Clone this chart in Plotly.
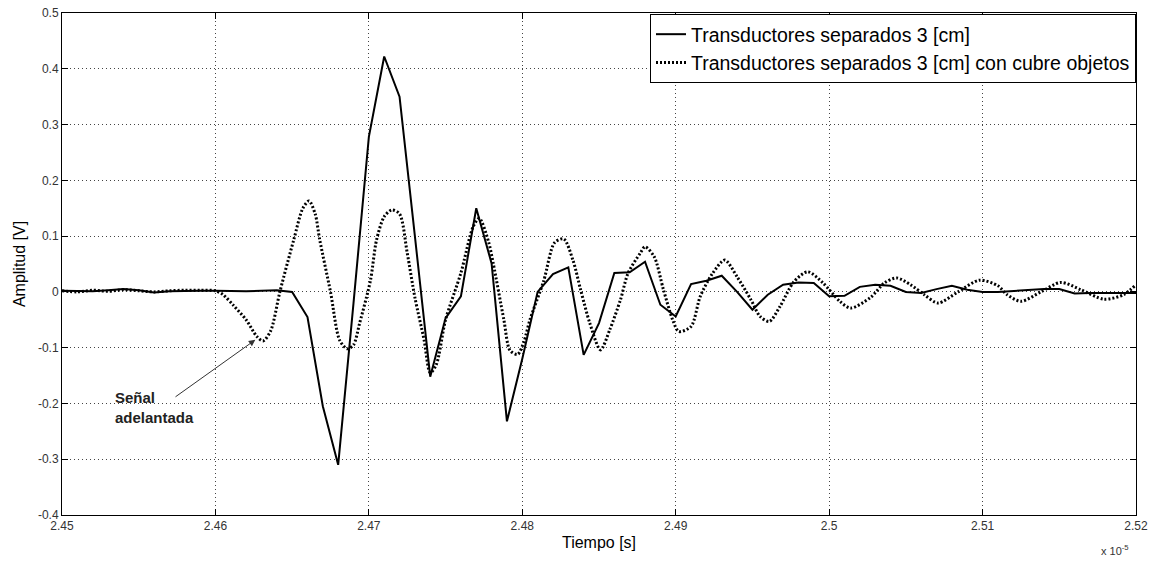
import plotly.graph_objects as go

# time in units of 1e-5 s
t_solid = [2.450, 2.451, 2.452, 2.453, 2.454, 2.455, 2.456, 2.457, 2.458, 2.459,
           2.460, 2.461, 2.462, 2.463, 2.464, 2.465, 2.466, 2.467, 2.468, 2.469,
           2.470, 2.471, 2.472, 2.473, 2.474, 2.475, 2.476, 2.477, 2.478, 2.479,
           2.480, 2.481, 2.482, 2.483, 2.484, 2.485, 2.486, 2.487, 2.488, 2.489,
           2.490, 2.491, 2.492, 2.493, 2.494, 2.495, 2.496, 2.497, 2.498, 2.499,
           2.500, 2.501, 2.502, 2.503, 2.504, 2.505, 2.506, 2.507, 2.508, 2.509,
           2.510, 2.511, 2.512, 2.513, 2.514, 2.515, 2.516, 2.517, 2.518, 2.519, 2.520]
v_solid = [0.002, 0.002, 0.001, 0.003, 0.005, 0.003, -0.001, 0.001, 0.002, 0.002,
           0.002, 0.001, 0.001, 0.002, 0.003, 0.000, -0.045, -0.205, -0.31, -0.02,
           0.278, 0.422, 0.35, 0.10, -0.152, -0.047, -0.008, 0.15, 0.051, -0.232,
           -0.12, 0.0, 0.032, 0.044, -0.113, -0.056, 0.034, 0.035, 0.054, -0.023,
           -0.044, 0.014, 0.02, 0.029, 0.0, -0.032, -0.005, 0.013, 0.017, 0.016,
           -0.008, -0.007, 0.009, 0.013, 0.011, 0.0, -0.002, 0.005, 0.011, 0.004,
           0.0, 0.0, 0.002, 0.004, 0.005, 0.005, -0.003, -0.002, -0.002, -0.002, -0.002]

t_cover = [2.4500, 2.4510, 2.4520, 2.4530, 2.4540, 2.4550, 2.4560, 2.4570, 2.4580, 2.4590,
           2.4600, 2.4605, 2.4612, 2.4620, 2.4627, 2.4631, 2.4636, 2.4642, 2.4651, 2.4657,
           2.4661, 2.4665, 2.4668, 2.4675, 2.4681, 2.4686, 2.4690, 2.4694, 2.4701, 2.4705,
           2.4710, 2.4715, 2.4720, 2.4725, 2.4730, 2.4736, 2.4740, 2.4744, 2.4750, 2.4760,
           2.4768, 2.4772, 2.4778, 2.4781, 2.4788, 2.4792, 2.4797, 2.4801, 2.4805, 2.4814,
           2.4821, 2.4827, 2.4833, 2.4838, 2.4844, 2.4851, 2.4857, 2.4864, 2.4869, 2.4877,
           2.4880, 2.4886, 2.4892, 2.4898, 2.4902, 2.4910, 2.4916, 2.4924, 2.4932, 2.4940,
           2.4949, 2.4955, 2.4961, 2.4968, 2.4977, 2.4986, 2.4996, 2.5007, 2.5014, 2.5027,
           2.5036, 2.5044, 2.5053, 2.5062, 2.5071, 2.5084, 2.5098, 2.5110, 2.5116, 2.5125,
           2.5138, 2.5151, 2.5164, 2.5179, 2.5192, 2.5200]
v_cover = [0.002, 0.000, 0.003, 0.001, 0.004, 0.002, 0.000, 0.002, 0.003, 0.003,
           0.002, -0.005, -0.025, -0.05, -0.08, -0.088, -0.07, 0.0, 0.093, 0.15,
           0.163, 0.14, 0.093, 0.0, -0.087, -0.102, -0.095, -0.056, 0.02, 0.093,
           0.135, 0.147, 0.14, 0.07, -0.01, -0.086, -0.145, -0.13, -0.05, 0.034,
           0.117, 0.132, 0.09, 0.052, -0.05, -0.105, -0.112, -0.09, -0.05, 0.02,
           0.088, 0.095, 0.057, 0.004, -0.056, -0.104, -0.068, -0.014, 0.034, 0.07,
           0.081, 0.063, 0.004, -0.05, -0.071, -0.062, -0.008, 0.033, 0.057, 0.027,
           -0.014, -0.044, -0.053, -0.026, 0.018, 0.036, 0.016, -0.017, -0.029, -0.010,
           0.016, 0.025, 0.013, -0.005, -0.02, 0.0, 0.021, 0.011, -0.005, -0.017,
           0.0, 0.017, 0.004, -0.013, -0.005, 0.013]

x_ticks = [2.45, 2.46, 2.47, 2.48, 2.49, 2.50, 2.51, 2.52]
x_ticktext = ["2.45", "2.46", "2.47", "2.48", "2.49", "2.5", "2.51", "2.52"]
y_ticks = [0.5, 0.4, 0.3, 0.2, 0.1, 0.0, -0.1, -0.2, -0.3, -0.4]
y_ticktext = ["0.5", "0.4", "0.3", "0.2", "0.1", "0", "-0.1", "-0.2", "-0.3", "-0.4"]

series_names = ["Transductores separados 3 [cm]",
                "Transductores separados 3 [cm] con cubre objetos"]

fig = go.Figure()
fig.add_trace(go.Scatter(x=t_solid, y=v_solid, mode="lines", name=series_names[0],
                         line=dict(color="black", width=2)))
fig.add_trace(go.Scatter(x=t_cover, y=v_cover, mode="lines", name=series_names[1],
                         line=dict(color="black", width=3, dash="2px,2px",
                                   shape="spline", smoothing=0.8)))

axis_common = dict(showline=True, linecolor="black", linewidth=1, mirror="ticks",
                   ticks="inside", ticklen=6, tickcolor="black", automargin=False,
                   ticklabeloverflow="allow",
                   showgrid=True, gridcolor="#444", gridwidth=1, griddash="1px,3px",
                   zeroline=False,
                   tickfont=dict(family="Liberation Sans Narrow, Arial Narrow, Liberation Sans, Arial",
                                 size=12, color="#333"))

fig.update_xaxes(range=[2.45, 2.52], tickvals=x_ticks, ticktext=x_ticktext,
                 title=dict(text="Tiempo [s]", standoff=4,
                            font=dict(family="Liberation Sans, Arial", size=16, color="black")),
                 **axis_common)
fig.update_yaxes(range=[-0.4, 0.5], tickvals=y_ticks, ticktext=y_ticktext,
                 title=dict(text="Amplitud [V]", standoff=8,
                            font=dict(family="Liberation Sans, Arial", size=16, color="black")),
                 **axis_common)

fig.add_annotation(x=2.4626, y=-0.086, ax=2.4573, ay=-0.19, axref="x", ayref="y",
                   xref="x", yref="y", text="", showarrow=True, arrowhead=2,
                   arrowsize=1.3, arrowwidth=1, arrowcolor="#333")
fig.add_annotation(x=2.4533, y=-0.207, xref="x", yref="y", text="<b>Señal<br>adelantada</b>",
                   showarrow=False, xanchor="left", yanchor="middle", align="left",
                   font=dict(family="Liberation Sans, Arial", size=15, color="#222"))
fig.add_annotation(x=0.966, y=-0.07, xref="paper", yref="paper",
                   text="x 10<sup>-5</sup>", showarrow=False, xanchor="left", yanchor="middle",
                   font=dict(family="Liberation Sans Narrow, Liberation Sans, Arial", size=11, color="#333"))

fig.update_layout(
    width=1157, height=563,
    margin=dict(l=62, r=21, t=13, b=48),
    paper_bgcolor="white", plot_bgcolor="white",
    showlegend=True,
    legend=dict(x=1, y=0.998, xanchor="right", yanchor="top",
                bgcolor="white", bordercolor="black", borderwidth=1,
                font=dict(family="Liberation Sans, Arial", size=19.5, color="black"),
                itemwidth=30, tracegroupgap=0),
)

# remove the browser's default 8px page margin so the figure fills the window exactly
fig.write_html("out.html", config={"displayModeBar": False},
               post_script="document.body.style.margin='0';document.body.style.overflow='hidden';")
